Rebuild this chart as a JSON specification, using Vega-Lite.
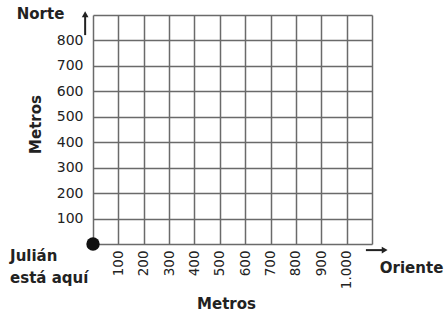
{
  "$schema": "https://vega.github.io/schema/vega-lite/v6.json",
  "autosize": "none",
  "padding": {"left": 93, "top": 15, "right": 74, "bottom": 71},
  "width": 279,
  "height": 229,
  "background": "white",
  "config": {
    "view": {"stroke": null},
    "font": "DejaVu Sans",
    "text": {"font": "DejaVu Sans"}
  },
  "data": {"values": [{"este": 0, "norte": 0}]},
  "encoding": {
    "x": {
      "field": "este",
      "type": "quantitative",
      "scale": {"domain": [0, 1100], "nice": false, "zero": false},
      "axis": {
        "values": [0, 100, 200, 300, 400, 500, 600, 700, 800, 900, 1000, 1100],
        "labelExpr": "datum.value == 1000 ? '1.000' : (datum.value == 0 || datum.value == 1100 ? '' : datum.label)",
        "grid": true,
        "gridColor": "#6a6a6a",
        "gridWidth": 1.5,
        "gridOpacity": 1,
        "domain": false,
        "ticks": false,
        "labelAngle": -90,
        "labelAlign": "right",
        "labelBaseline": "middle",
        "labelPadding": 6,
        "labelFontSize": 13.5,
        "labelColor": "#222",
        "labelFont": "DejaVu Sans",
        "title": "Metros",
        "titleFont": "DejaVu Sans",
        "titleFontSize": 15,
        "titleFontWeight": "bold",
        "titleColor": "#222",
        "titleX": 133,
        "titleY": 59,
        "titleBaseline": "middle"
      }
    },
    "y": {
      "field": "norte",
      "type": "quantitative",
      "scale": {"domain": [0, 900], "nice": false, "zero": false},
      "axis": {
        "values": [0, 100, 200, 300, 400, 500, 600, 700, 800, 900],
        "labelExpr": "datum.value == 0 || datum.value == 900 ? '' : datum.label",
        "grid": true,
        "gridColor": "#6a6a6a",
        "gridWidth": 1.5,
        "gridOpacity": 1,
        "domain": false,
        "ticks": false,
        "labelPadding": 10,
        "labelFontSize": 14,
        "labelColor": "#222",
        "labelFont": "DejaVu Sans",
        "title": "Metros",
        "titleFont": "DejaVu Sans",
        "titleFontSize": 15,
        "titleFontWeight": "bold",
        "titleColor": "#222",
        "titleAngle": -90,
        "titleX": -58,
        "titleY": 109,
        "titleAlign": "center",
        "titleBaseline": "middle"
      }
    }
  },
  "layer": [
    {
      "mark": {"type": "point", "shape": "circle", "filled": true, "color": "#111", "size": 180, "opacity": 1}
    },
    {
      "mark": {"type": "rule", "color": "#222", "strokeWidth": 2},
      "encoding": {
        "x": {"datum": -31},
        "y": {"datum": 821},
        "y2": {"datum": 900}
      }
    },
    {
      "mark": {"type": "point", "shape": "triangle-up", "filled": true, "color": "#222", "size": 45, "opacity": 1},
      "encoding": {
        "x": {"datum": -31},
        "y": {"datum": 903}
      }
    },
    {
      "mark": {"type": "rule", "color": "#222", "strokeWidth": 2},
      "encoding": {
        "x": {"datum": 1076},
        "x2": {"datum": 1145},
        "y": {"datum": -24}
      }
    },
    {
      "mark": {"type": "point", "shape": "triangle-right", "filled": true, "color": "#222", "size": 45, "opacity": 1},
      "encoding": {
        "x": {"datum": 1150},
        "y": {"datum": -24}
      }
    },
    {
      "mark": {"type": "text", "text": "Norte", "font": "DejaVu Sans", "fontSize": 15, "fontWeight": "bold", "color": "#222", "align": "center", "baseline": "middle"},
      "encoding": {
        "x": {"datum": -207},
        "y": {"datum": 904}
      }
    },
    {
      "mark": {"type": "text", "text": "Oriente", "font": "DejaVu Sans", "fontSize": 15, "fontWeight": "bold", "color": "#222", "align": "center", "baseline": "middle"},
      "encoding": {
        "x": {"datum": 1256},
        "y": {"datum": -94}
      }
    },
    {
      "mark": {"type": "text", "text": "Julián", "font": "DejaVu Sans", "fontSize": 15, "fontWeight": "bold", "color": "#222", "align": "left", "baseline": "middle"},
      "encoding": {
        "x": {"datum": -327},
        "y": {"datum": -47}
      }
    },
    {
      "mark": {"type": "text", "text": "está aquí", "font": "DejaVu Sans", "fontSize": 15, "fontWeight": "bold", "color": "#222", "align": "left", "baseline": "middle"},
      "encoding": {
        "x": {"datum": -327},
        "y": {"datum": -134}
      }
    }
  ]
}
